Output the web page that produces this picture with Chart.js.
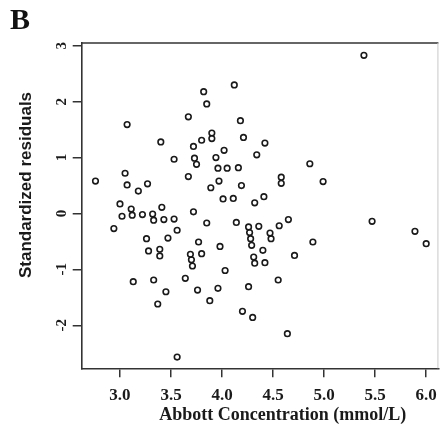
<!DOCTYPE html>
<html>
<head>
<meta charset="utf-8">
<script src="https://cdn.jsdelivr.net/npm/chart.js@4"></script>
<style>
  html, body { margin: 0; padding: 0; background: #fff; }
  canvas { display: block; }
</style>
</head>
<body>
<canvas id="residplot" width="445" height="433"></canvas>
<script>
// Abbott concentration (mmol/L) vs standardized residuals
const concentration = [
  2.76, 2.94, 3.00, 3.02, 3.05, 3.07, 3.07, 3.11, 3.12, 3.13,
  3.18, 3.22, 3.27, 3.26, 3.28, 3.32, 3.33, 3.33, 3.37, 3.39,
  3.39, 3.40, 3.41, 3.43, 3.45, 3.47, 3.53, 3.53, 3.56, 3.56,
  3.64, 3.67, 3.67, 3.69, 3.70, 3.71, 3.72, 3.72, 3.73, 3.75,
  3.76, 3.77, 3.80, 3.80, 3.82, 3.85, 3.85, 3.88, 3.89, 3.90,
  3.90, 3.94, 3.96, 3.96, 3.97, 3.98, 4.01, 4.02, 4.03, 4.05,
  4.11, 4.12, 4.14, 4.16, 4.18, 4.19, 4.21, 4.20, 4.26, 4.26,
  4.27, 4.28, 4.29, 4.30, 4.31, 4.32, 4.32, 4.34, 4.36, 4.40,
  4.41, 4.42, 4.42, 4.47, 4.48, 4.55, 4.56, 4.58, 4.58, 4.64,
  4.65, 4.71, 4.86, 4.89, 4.99, 5.39, 5.47, 5.89, 6.00
];
const residuals = [
  0.58, -0.27, 0.17, -0.05, 0.72, 1.59, 0.51, 0.08, -0.03, -1.22,
  0.40, -0.02, 0.53, -0.45, -0.67, -0.01, -0.12, -1.19, -1.62, -0.64,
  -0.76, 1.28, 0.11, -0.11, -1.40, -0.44, 0.97, -0.10, -0.30, -2.57,
  -1.16, 1.73, 0.66, -0.73, -0.83, -0.94, 1.20, 0.03, 0.99, 0.88,
  -1.37, -0.51, -0.72, 1.31, 2.18, 1.96, -0.17, -1.56, 0.46, 1.44,
  1.34, 1.00, 0.81, -1.34, 0.58, -0.59, 0.26, 1.13, -1.02, 0.81,
  0.27, 2.30, -0.16, 0.82, 1.66, 0.50, 1.36, -1.75, -0.24, -1.31,
  -0.34, -0.45, -0.57, -1.86, -0.78, 0.19, -0.89, 1.05, -0.23, -0.66,
  0.30, 1.26, -0.88, -0.35, -0.45, -1.19, -0.22, 0.65, 0.54, -2.15,
  -0.11, -0.75, 0.89, -0.51, 0.57, 2.83, -0.14, -0.32, -0.54
];
const xTicks = [3.0, 3.5, 4.0, 4.5, 5.0, 5.5, 6.0];
const yTicks = [-2, -1, 0, 1, 2, 3];

const xTitle = 'Abbott Concentration (mmol/L)';
const yTitle = 'Standardized residuals';

const points = concentration.map((x, i) => ({ x: x, y: residuals[i] }));

const ink = '#1a1a1a';

// box around the plot region plus the two axis titles
const framePlugin = {
  id: 'frame',
  afterDraw(chart) {
    const { ctx, chartArea } = chart;
    ctx.save();
    ctx.strokeStyle = '#333';
    ctx.lineWidth = 1.6;
    ctx.beginPath();
    ctx.moveTo(chartArea.left, chartArea.top);
    ctx.lineTo(chartArea.right, chartArea.top);
    ctx.stroke();
    ctx.strokeStyle = '#c8c8c8';
    ctx.lineWidth = 1;
    ctx.beginPath();
    ctx.moveTo(chartArea.right - 0.5, chartArea.top);
    ctx.lineTo(chartArea.right - 0.5, chartArea.bottom);
    ctx.stroke();

    ctx.fillStyle = ink;
    ctx.textAlign = 'center';
    ctx.textBaseline = 'middle';
    ctx.font = 'bold 18px "Liberation Serif"';
    ctx.fillText(xTitle, chartArea.left + 201, chartArea.bottom + 47);

    ctx.translate(chartArea.left - 55, chartArea.top + 142);
    ctx.rotate(-Math.PI / 2);
    ctx.font = 'bold 17px "Liberation Sans"';
    ctx.fillText(yTitle, 0, 0);
    ctx.restore();
  }
};

const config = {
  type: 'scatter',
  data: {
    datasets: [{
      label: 'Standardized residuals',
      data: points,
      pointStyle: 'circle',
      pointRadius: 2.8,
      pointBorderWidth: 1.6,
      borderColor: ink,
      backgroundColor: 'rgba(0,0,0,0)',
    }]
  },
  options: {
    responsive: false,
    animation: false,
    devicePixelRatio: 1,
    layout: {
      padding: { top: 3, left: 10, right: 1, bottom: 0 },
    },
    plugins: {
      legend: { display: false },
      tooltip: { enabled: false },
      title: {
        display: true,
        text: 'B',
        align: 'start',
        color: '#111',
        font: { family: '"Liberation Serif"', size: 30, weight: 'bold', lineHeight: 1.2 },
        padding: { top: 0, bottom: 4 },
      },
    },
    scales: {
      x: {
        type: 'linear',
        min: 2.625,
        max: 6.12,
        afterFit(scale) { scale.height = 64.7; },
        afterBuildTicks(scale) { scale.ticks = xTicks.map(v => ({ value: v })); },
        border: { display: true, color: '#333', width: 1.6 },
        grid: { drawOnChartArea: false, drawTicks: true, tickLength: 9, color: '#333', lineWidth: 1.5 },
        ticks: {
          color: ink,
          padding: 8,
          font: { family: '"Liberation Serif"', size: 17, weight: 'bold' },
          callback: v => Number(v).toFixed(1),
        },
      },
      y: {
        type: 'linear',
        min: -2.77,
        max: 3.05,
        afterFit(scale) { scale.width = 71.7; },
        afterBuildTicks(scale) { scale.ticks = yTicks.map(v => ({ value: v })); },
        border: { display: true, color: '#333', width: 1.6 },
        grid: { drawOnChartArea: false, drawTicks: true, tickLength: 9, color: '#333', lineWidth: 1.5 },
        ticks: {
          color: ink,
          padding: 4,
          minRotation: 90,
          maxRotation: 90,
          crossAlign: 'center',
          font: { family: '"Liberation Serif"', size: 15, weight: 'bold' },
          callback: v => String(v),
        },
      },
    },
  },
  plugins: [framePlugin],
};

const residplot = new Chart(
  document.getElementById('residplot'),
  config
);
</script>
</body>
</html>
